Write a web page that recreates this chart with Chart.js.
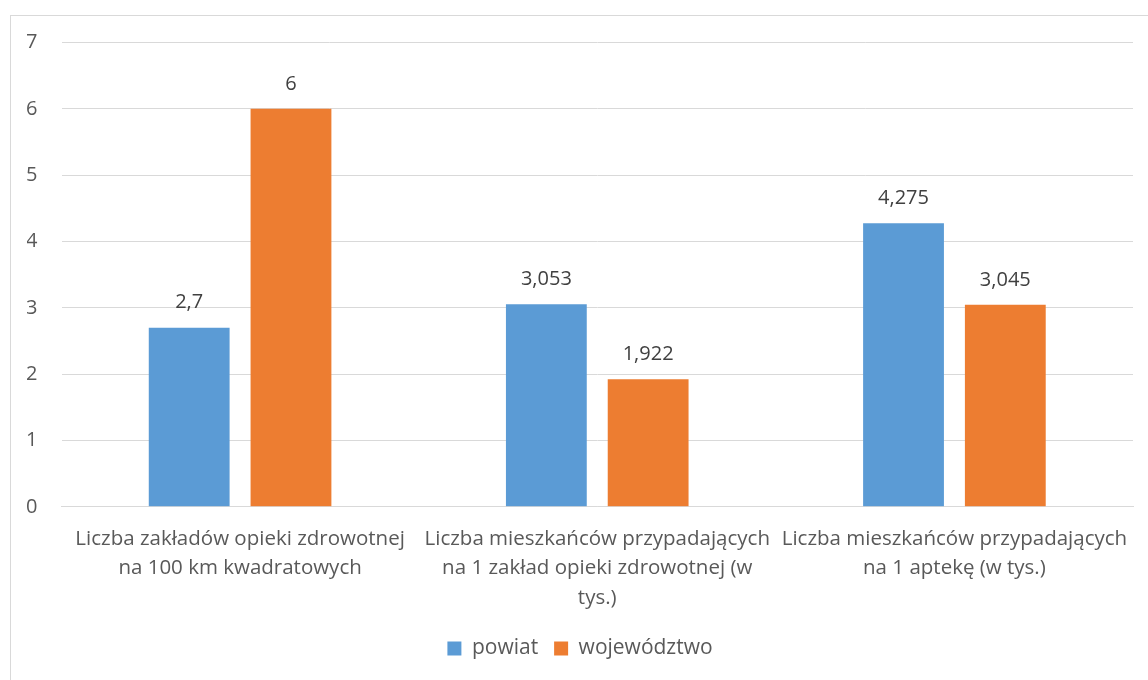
<!DOCTYPE html>
<html>
<head>
<meta charset="utf-8">
<script src="https://cdn.jsdelivr.net/npm/chart.js@4"></script>
<style>
  body { margin: 0; background: #fff; }
  #box { position: absolute; left: 10px; top: 15px; width: 1150px; height: 680px; border: 1.5px solid #d9d9d9; box-sizing: border-box; }
  canvas { position: absolute; left: 0; top: 0; }
</style>
</head>
<body>
<div id="box"><canvas id="wykres" width="1136" height="663"></canvas></div>
<script>
const kategorie = [
  ["Liczba zakładów opieki zdrowotnej", "na 100 km kwadratowych"],
  ["Liczba mieszkańców przypadających", "na 1 zakład opieki zdrowotnej (w", "tys.)"],
  ["Liczba mieszkańców przypadających", "na 1 aptekę (w tys.)"]
];
const powiat = [2.7, 3.053, 4.275];
const wojewodztwo = [6, 1.922, 3.045];
const osY = [0, 1, 2, 3, 4, 5, 6, 7];

const szary = '#595959';
const czcionka = "'Open Sans', sans-serif";

// etykiety wartosci nad slupkami
const etykiety = {
  id: 'etykiety',
  afterDatasetsDraw(chart) {
    const ctx = chart.ctx;
    ctx.save();
    ctx.font = "20px " + czcionka;
    ctx.fillStyle = '#404040';
    ctx.textAlign = 'center';
    ctx.textBaseline = 'middle';
    chart.data.datasets.forEach((ds, i) => {
      chart.getDatasetMeta(i).data.forEach((bar, j) => {
        const txt = String(ds.data[j]).replace('.', ',');
        ctx.fillText(txt, bar.x, bar.y - 25);
      });
    });
    ctx.restore();
  }
};

new Chart(document.getElementById('wykres'), {
  type: 'bar',
  data: {
    labels: kategorie,
    datasets: [
      { label: 'powiat', data: powiat, backgroundColor: '#5b9bd5' },
      { label: 'województwo', data: wojewodztwo, backgroundColor: '#ed7d31' }
    ]
  },
  plugins: [etykiety],
  options: {
    responsive: false,
    animation: false,
    categoryPercentage: 0.57,
    barPercentage: 0.794,
    layout: { padding: { left: 16, right: 14, top: 26.5, bottom: 10 } },
    plugins: {
      legend: {
        position: 'bottom',
        labels: {
          color: szary,
          font: { family: czcionka, size: 21 },
          boxWidth: 14, boxHeight: 14,
          padding: 16
        }
      },
      tooltip: { enabled: false }
    },
    scales: {
      x: {
        grid: { display: false },
        border: { color: '#d9d9d9' },
        afterFit: s => { s.paddingLeft = 0; s.paddingRight = 0; },
        ticks: {
          color: szary,
          font: { family: czcionka, size: 20.5, lineHeight: 1.45 },
          maxRotation: 0, autoSkip: false, padding: 9
        }
      },
      y: {
        min: 0, max: 7,
        afterBuildTicks: ax => { ax.ticks = osY.map(v => ({ value: v })); },
        afterFit: s => { s.width = 34.5; s.paddingTop = 0; s.paddingBottom = 0; },
        grid: { color: '#d9d9d9', drawTicks: false },
        border: { display: false },
        ticks: { color: szary, font: { family: czcionka, size: 20 }, padding: 24 }
      }
    }
  }
});
</script>
</body>
</html>
